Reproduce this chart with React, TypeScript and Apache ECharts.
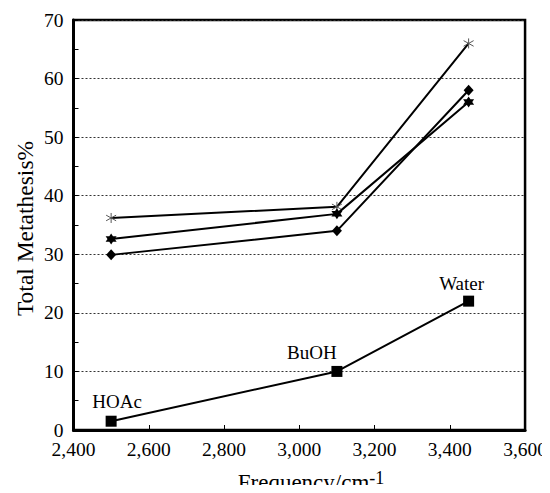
import React, { useEffect, useRef } from "react";
import * as echarts from "echarts";

// Wavenumbers of the three solvents (cm^-1)
const frequencies = [2500, 3100, 3450];
const solventLabels = ["HOAc", "BuOH", "Water"];

// Total metathesis (%) for each data set
const asteriskSeries = [36.2, 38.1, 66.0];
const hexStarSeries = [32.6, 36.9, 56.0];
const diamondSeries = [29.9, 34.0, 58.0];
const squareSeries = [1.5, 10.0, 22.0];

const xTicks = { min: 2400, max: 3600, interval: 200 };
const yTicks = { min: 0, max: 70, interval: 10 };

const FONT = "Liberation Serif";

const ASTERISK =
  "path://M5,0 L5,10 M0.8,2.2 L9.2,7.8 M0.8,7.8 L9.2,2.2";
// two triangles wound the same way so the overlap stays filled
const HEXAGRAM =
  "path://M5,0 L9.33,7.5 L0.67,7.5 Z M5,10 L0.67,2.5 L9.33,2.5 Z";

const labelOffsets: [number, number][] = [
  [6, -2.5],
  [-25, -1.5],
  [-7, -0.5],
];

function pairs(values: number[]) {
  return frequencies.map((f, i) => [f, values[i]]);
}

export default function App() {
  const ref = useRef<HTMLDivElement>(null);

  useEffect(() => {
    if (!ref.current) return;
    const chart = echarts.init(ref.current, undefined, { renderer: "svg" });

    const line = { color: "#000", width: 2 };

    chart.setOption({
      animation: false,
      backgroundColor: "#fff",
      textStyle: { fontFamily: FONT },
      grid: {
        left: 73.5,
        right: 24,
        top: 20,
        bottom: 63,
        show: true,
        borderColor: "#000",
        borderWidth: 2.5,
        backgroundColor: "transparent",
      },
      xAxis: {
        type: "value",
        min: xTicks.min,
        max: xTicks.max,
        interval: xTicks.interval,
        axisLine: { show: true, lineStyle: { color: "#000", width: 3 } },
        axisTick: { show: true, inside: true, length: 5, lineStyle: { color: "#000", width: 1 } },
        axisLabel: {
          color: "#000",
          fontFamily: FONT,
          fontSize: 19.5,
          margin: 9,
          formatter: (v: number) => v.toLocaleString("en-US"),
        },
        splitLine: { show: false },
      },
      yAxis: {
        type: "value",
        min: yTicks.min,
        max: yTicks.max,
        interval: yTicks.interval,
        axisLine: { show: true, lineStyle: { color: "#000", width: 3 } },
        axisTick: { show: true, inside: true, length: 5, lineStyle: { color: "#000", width: 1 } },
        minorTick: { show: true, splitNumber: 2, length: 5, lineStyle: { color: "#000", width: 1 } },
        axisLabel: {
          color: "#000",
          fontFamily: FONT,
          fontSize: 19.5,
          margin: 10,
        },
        splitLine: {
          show: true,
          lineStyle: { color: "#333", width: 1, type: [2, 2] },
        },
      },
      graphic: [
        {
          type: "text",
          x: 25,
          y: 228.5,
          rotation: Math.PI / 2,
          style: {
            text: "Total Metathesis%",
            fontFamily: FONT,
            fontSize: 23.5,
            fill: "#000",
            align: "center",
            verticalAlign: "middle",
          },
        },
        {
          type: "text",
          x: 311,
          y: 482,
          style: {
            text: "Frequency/cm{sup|-1}",
            fontFamily: FONT,
            fontSize: 23,
            fill: "#000",
            align: "center",
            verticalAlign: "middle",
            rich: {
              sup: {
                fontFamily: FONT,
                fontSize: 18,
                fill: "#000",
                padding: [0, 0, 8, 0],
              },
            },
          },
        },
      ],
      series: [
        {
          name: "Asterisk set",
          type: "line",
          data: pairs(asteriskSeries),
          symbol: ASTERISK,
          symbolSize: 10,
          lineStyle: line,
          itemStyle: { color: "transparent", borderColor: "#555", borderWidth: 1 },
          z: 3,
        },
        {
          name: "Hexagram set",
          type: "line",
          data: pairs(hexStarSeries),
          symbol: HEXAGRAM,
          symbolSize: 11,
          lineStyle: line,
          itemStyle: { color: "#000", borderWidth: 0 },
          z: 4,
        },
        {
          name: "Diamond set",
          type: "line",
          data: pairs(diamondSeries),
          symbol: "diamond",
          symbolSize: [10, 11],
          lineStyle: line,
          itemStyle: { color: "#000", borderWidth: 0 },
          z: 4,
        },
        {
          name: "Solvents",
          type: "line",
          data: pairs(squareSeries).map((p, i) => ({
            value: p,
            label: {
              show: true,
              formatter: solventLabels[i],
              position: "top",
              distance: 2,
              offset: labelOffsets[i],
              color: "#000",
              fontFamily: FONT,
              fontSize: 19,
            },
          })),
          symbol: "rect",
          symbolSize: 11,
          lineStyle: line,
          itemStyle: { color: "#000", borderWidth: 0 },
          z: 4,
        },
      ],
    });

    return () => chart.dispose();
  }, []);

  return <div ref={ref} style={{ width: 550, height: 493, margin: -8 }} />;
}
